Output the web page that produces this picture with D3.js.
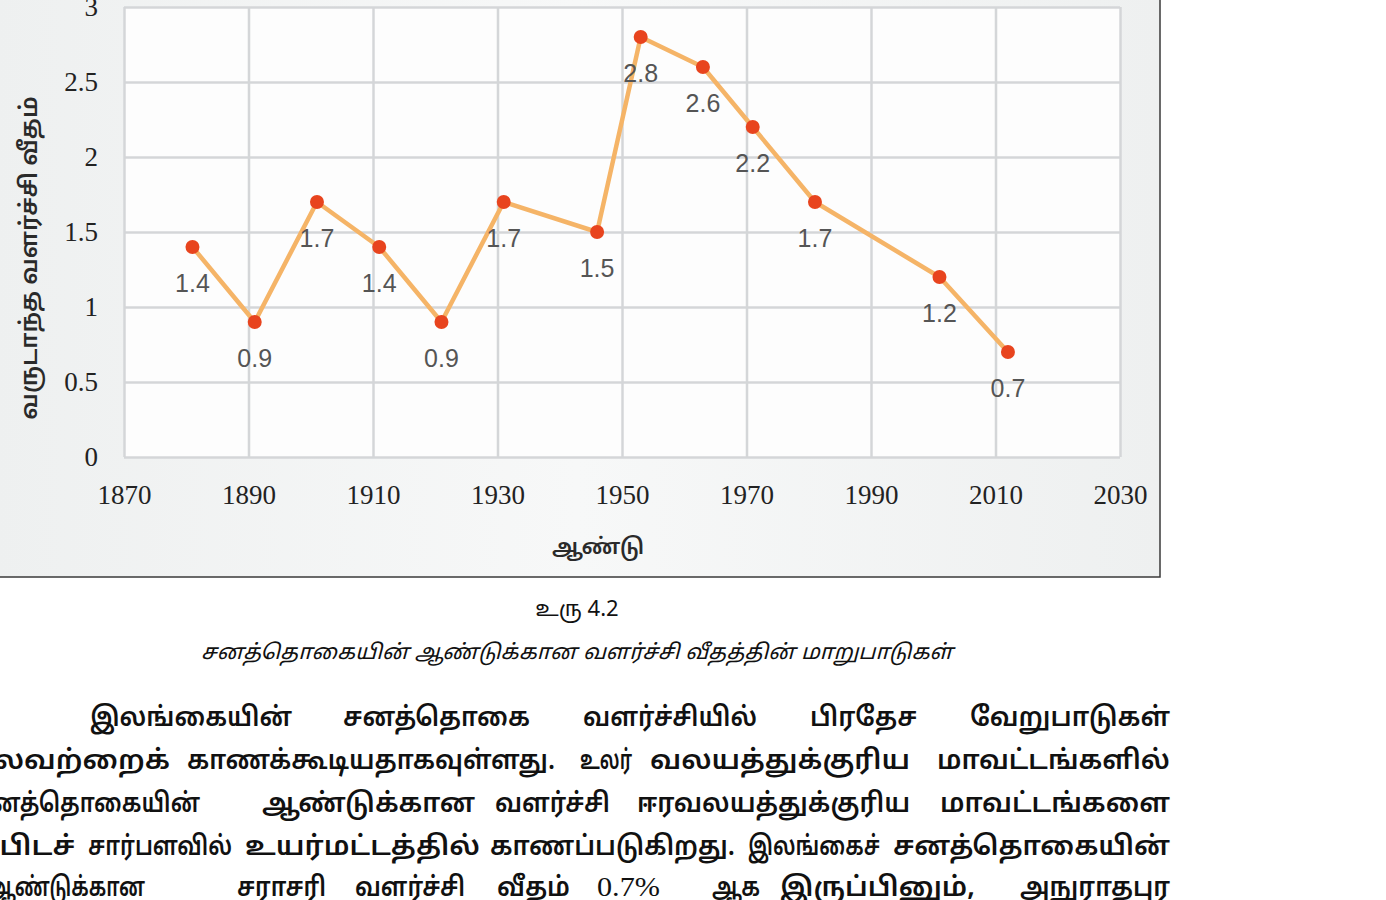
<!DOCTYPE html>
<html>
<head>
<meta charset="utf-8">
<script src="https://cdn.jsdelivr.net/npm/d3@7"></script>
<style>
  html, body { margin: 0; padding: 0; background: #ffffff; overflow: hidden; }
</style>
</head>
<body>
<div class="responsive-svg-container"></div>
<script>
// census years and annual growth rate (%)
const years = [1881, 1891, 1901, 1911, 1921, 1931, 1946, 1953, 1963, 1971, 1981, 2001, 2012];
const rates = [1.4, 0.9, 1.7, 1.4, 0.9, 1.7, 1.5, 2.8, 2.6, 2.2, 1.7, 1.2, 0.7];
const xTicks = [1870, 1890, 1910, 1930, 1950, 1970, 1990, 2010, 2030];
const yTicks = [0, 0.5, 1, 1.5, 2, 2.5, 3];

const yTitle = "வருடாந்த வளர்ச்சி வீதம்";
const xTitle = "ஆண்டு";
const figNo = "உரு 4.2";
const figCaption = "சனத்தொகையின் ஆண்டுக்கான வளர்ச்சி வீதத்தின் மாறுபாடுகள்";

// paragraph below the figure, word by word with the span each word covers
const paraLines = [
  {y: 726, words: [["இலங்கையின்", 90, 292], ["சனத்தொகை", 343, 530], ["வளர்ச்சியில்", 583, 757], ["பிரதேச", 810, 917], ["வேறுபாடுகள்", 970, 1170]]},
  {y: 769, words: [["பலவற்றைக்", -30, 170], ["காணக்கூடியதாகவுள்ளது.", 187, 555], ["உலர்", 580, 632], ["வலயத்துக்குரிய", 650, 910], ["மாவட்டங்களில்", 937, 1170]]},
  {y: 812, words: [["சனத்தொகையின்", -26, 200], ["ஆண்டுக்கான", 262, 475], ["வளர்ச்சி", 495, 610], ["ஈரவலயத்துக்குரிய", 637, 910], ["மாவட்டங்களை", 940, 1170]]},
  {y: 855, words: [["ஒப்பிடச்", -55, 75], ["சார்பளவில்", 88, 232], ["உயர்மட்டத்தில்", 245, 480], ["காணப்படுகிறது.", 490, 735], ["இலங்கைச்", 748, 880], ["சனத்தொகையின்", 893, 1170]]},
  {y: 896, words: [["ஆண்டுக்கான", -12, 145], ["சராசரி", 237, 326], ["வளர்ச்சி", 355, 465], ["வீதம்", 497, 570], ["0.7%", 597, 660], ["ஆக", 712, 760], ["இருப்பினும்,", 780, 975], ["அநுராதபுர", 1020, 1170]]}
];

const width = 1386;
const height = 900;
const margin = {top: 7, bottom: 443, left: 124, right: 266};
const innerWidth = width - margin.left - margin.right;
const innerHeight = height - margin.top - margin.bottom;

const svg = d3.select(".responsive-svg-container")
    .append("svg")
    .attr("width", width)
    .attr("height", height)
    .attr("viewBox", `0 0 ${width} ${height}`);

const tamilFont = "'Noto Sans Tamil', 'Lohit Tamil', 'Latha', 'Noto Sans', sans-serif";

// chart panel (left and top edges run off the page)
const grad = svg.append("defs").append("linearGradient")
    .attr("id", "panelGrad")
    .attr("x1", "0").attr("x2", "1").attr("y1", "0").attr("y2", "0");
grad.append("stop").attr("offset", "0").attr("stop-color", "#eef0f0");
grad.append("stop").attr("offset", "0.5").attr("stop-color", "#f7f8f8");
grad.append("stop").attr("offset", "1").attr("stop-color", "#eef0f0");

svg.append("rect")
    .attr("x", -5).attr("y", -5)
    .attr("width", 1165).attr("height", 582)
    .attr("fill", "url(#panelGrad)")
    .attr("stroke", "#3a3a3a")
    .attr("stroke-width", 1.5);

const innerChart = svg.append("g")
    .attr("transform", `translate(${margin.left}, ${margin.top})`);

const xScale = d3.scaleLinear()
    .domain([1870, 2030])
    .range([0, innerWidth]);

const yScale = d3.scaleLinear()
    .domain([0, 3])
    .range([innerHeight, 0]);

// plot background
innerChart.append("rect")
    .attr("width", innerWidth)
    .attr("height", innerHeight)
    .attr("fill", "#fdfdfd");

// grid
innerChart.append("g")
    .attr("class", "grid-y")
    .call(d3.axisLeft(yScale).tickValues(yTicks).tickSize(-innerWidth).tickFormat(""))
    .call(g => g.select(".domain").remove())
    .selectAll("line")
    .attr("stroke", "#d4d6d8")
    .attr("stroke-width", 2.5);

innerChart.append("g")
    .attr("class", "grid-x")
    .attr("transform", `translate(0, ${innerHeight})`)
    .call(d3.axisBottom(xScale).tickValues(xTicks).tickSize(-innerHeight).tickFormat(""))
    .call(g => g.select(".domain").remove())
    .selectAll("line")
    .attr("stroke", "#d4d6d8")
    .attr("stroke-width", 2.5);

// tick labels
innerChart.append("g")
    .attr("class", "the-y-axis")
    .call(d3.axisLeft(yScale).tickValues(yTicks).tickSize(0).tickPadding(26).tickFormat(d => d))
    .call(g => g.select(".domain").remove())
    .selectAll("text")
    .attr("font-family", "'Liberation Serif', 'DejaVu Serif', serif")
    .attr("font-size", 27)
    .attr("fill", "#222");

innerChart.append("g")
    .attr("class", "the-x-axis")
    .attr("transform", `translate(0, ${innerHeight})`)
    .call(d3.axisBottom(xScale).tickValues(xTicks).tickSize(0).tickPadding(28).tickFormat(d => d))
    .call(g => g.select(".domain").remove())
    .selectAll("text")
    .attr("font-family", "'Liberation Serif', 'DejaVu Serif', serif")
    .attr("font-size", 27)
    .attr("fill", "#222");

const data = years.map((y, i) => ({year: y, rate: rates[i]}));

const lineGenerator = d3.line()
    .x(d => xScale(d.year))
    .y(d => yScale(d.rate));

innerChart.append("path")
    .attr("d", lineGenerator(data))
    .attr("fill", "none")
    .attr("stroke", "#f5b467")
    .attr("stroke-width", 4.5)
    .attr("stroke-linejoin", "round");

innerChart.selectAll(".dot")
    .data(data)
    .join("circle")
    .attr("class", "dot")
    .attr("cx", d => xScale(d.year))
    .attr("cy", d => yScale(d.rate))
    .attr("r", 7)
    .attr("fill", "#e8441e");

innerChart.selectAll(".val")
    .data(data)
    .join("text")
    .attr("class", "val")
    .attr("x", d => xScale(d.year))
    .attr("y", d => yScale(d.rate) + 38)
    .attr("text-anchor", "middle")
    .attr("dominant-baseline", "middle")
    .attr("font-family", "'Liberation Sans', Arial, sans-serif")
    .attr("font-size", 25)
    .attr("fill", "#555")
    .text(d => d.rate);

// axis titles
svg.append("text")
    .attr("transform", `translate(30, 258) rotate(-90)`)
    .attr("text-anchor", "middle")
    .attr("dominant-baseline", "middle")
    .attr("font-family", tamilFont)
    .attr("font-size", 24)
    .attr("font-weight", 600)
    .attr("fill", "#2a2a2a")
    .text(yTitle);

svg.append("text")
    .attr("x", 598)
    .attr("y", 548)
    .attr("text-anchor", "middle")
    .attr("dominant-baseline", "middle")
    .attr("font-family", tamilFont)
    .attr("font-size", 22)
    .attr("font-weight", 600)
    .attr("fill", "#2a2a2a")
    .text(xTitle);

// figure caption
svg.append("text")
    .attr("x", 577)
    .attr("y", 616)
    .attr("text-anchor", "middle")
    .attr("font-family", tamilFont)
    .attr("font-size", 22)
    .attr("fill", "#111")
    .text(figNo);

svg.append("text")
    .attr("x", 577)
    .attr("y", 659)
    .attr("text-anchor", "middle")
    .attr("font-family", tamilFont)
    .attr("font-size", 21)
    .attr("font-style", "italic")
    .attr("fill", "#111")
    .attr("textLength", 752)
    .attr("lengthAdjust", "spacingAndGlyphs")
    .text(figCaption);

// body paragraph
paraLines.forEach(line => {
    svg.append("g")
        .selectAll("text")
        .data(line.words)
        .join("text")
        .attr("x", d => d[1])
        .attr("y", line.y)
        .attr("font-family", d => d[0] === "0.7%" ? "'Liberation Serif', serif" : tamilFont)
        .attr("font-size", 27)
        .attr("font-weight", d => d[0] === "0.7%" ? 400 : 600)
        .attr("fill", "#111")
        .attr("textLength", d => d[2] - d[1])
        .attr("lengthAdjust", "spacingAndGlyphs")
        .text(d => d[0]);
});
</script>
</body>
</html>
